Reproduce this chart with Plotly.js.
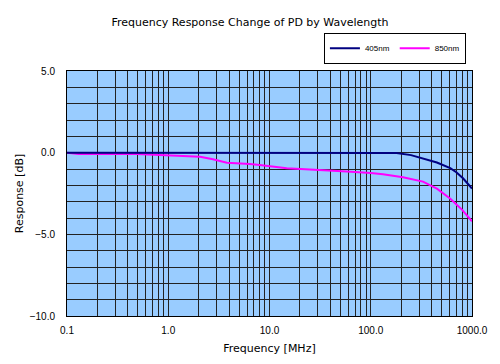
<!DOCTYPE html>
<html><head><meta charset="utf-8">
<script src="https://cdn.plot.ly/plotly-3.0.1.min.js"></script>
<style>html,body{margin:0;padding:0;background:#fff}#c{width:500px;height:364px}</style>
</head><body><div id="c"></div>
<script>
const freq405 = [0.1, 1, 10, 100, 180, 250, 330, 450, 610, 700, 815, 900, 1000];
const resp405 = [0, 0, 0, 0, -0.02, -0.15, -0.35, -0.6, -0.95, -1.2, -1.57, -1.85, -2.2];
const freq850 = [0.1, 0.13, 0.49, 1.04, 2.06, 2.76, 3.8, 6.4, 8, 14.8, 30, 57.8, 100, 132, 208, 328, 450, 607, 800, 1000];
const resp850 = [0, -0.08, -0.08, -0.15, -0.25, -0.4, -0.62, -0.7, -0.75, -0.96, -1.05, -1.16, -1.25, -1.32, -1.5, -1.77, -2.2, -2.8, -3.5, -4.2];
const xTickVals = [0.1, 1, 10, 100, 1000];
const xTickText = ["0.1", "1.0", "10.0", "100.0", "1000.0"];
const yTickVals = [5, 0, -5, -10];
const yTickText = ["5.0", "0.0", "\u22125.0", "\u221210.0"];
const seriesNames = ["405nm", "850nm"];

const font = "DejaVu Sans, Liberation Sans, Arial, sans-serif";
const tfont = "Liberation Sans, Arial, sans-serif";
const data = [
  {x: freq405, y: resp405, name: seriesNames[0], type: "scatter", mode: "lines", line: {color: "#000080", width: 2}},
  {x: freq850, y: resp850, name: seriesNames[1], type: "scatter", mode: "lines", line: {color: "#FF00FF", width: 2}}
];
data.reverse();
const layout = {
  width: 500, height: 364,
  margin: {l: 67, r: 28, t: 71, b: 48},
  paper_bgcolor: "#ffffff", plot_bgcolor: "#99CCFF",
  title: {text: "Frequency Response Change of PD by Wavelength", x: 0.5, xanchor: "center", y: 0.94, yanchor: "middle",
          font: {family: font, size: 11, color: "#000"}},
  showlegend: true,
  legend: {orientation: "h", x: 0.985, xanchor: "right", y: 1.03, yanchor: "bottom",
           bordercolor: "#000", borderwidth: 1, bgcolor: "#fff", traceorder: "reversed",
           font: {family: tfont, size: 8, color: "#000"}, tracegroupgap: 0},
  xaxis: {type: "log", range: [-1, 3], tickvals: xTickVals, ticktext: xTickText,
          showgrid: true, gridcolor: "#222", gridwidth: 1,
          minor: {dtick: "D1", showgrid: true, gridcolor: "#222", gridwidth: 1, ticks: ""},
          showline: true, linecolor: "#000", mirror: true, ticks: "", zeroline: false,
          ticklabelstandoff: 5,
          tickfont: {family: tfont, size: 10, color: "#000"},
          title: {text: "Frequency [MHz]", font: {family: font, size: 11, color: "#000"}, standoff: 9}},
  yaxis: {range: [-10, 5], tickvals: yTickVals, ticktext: yTickText,
          showgrid: true, gridcolor: "#222", gridwidth: 1,
          minor: {dtick: 1, showgrid: true, gridcolor: "#222", gridwidth: 1, ticks: ""},
          showline: true, linecolor: "#000", mirror: true, ticks: "", zeroline: false,
          ticklabelstandoff: 9,
          tickfont: {family: tfont, size: 10, color: "#000"},
          title: {text: "Response [dB]", font: {family: font, size: 11, color: "#000"}, standoff: 3}}
};
Plotly.newPlot("c", data, layout, {staticPlot: true, displayModeBar: false});
</script></body></html>
